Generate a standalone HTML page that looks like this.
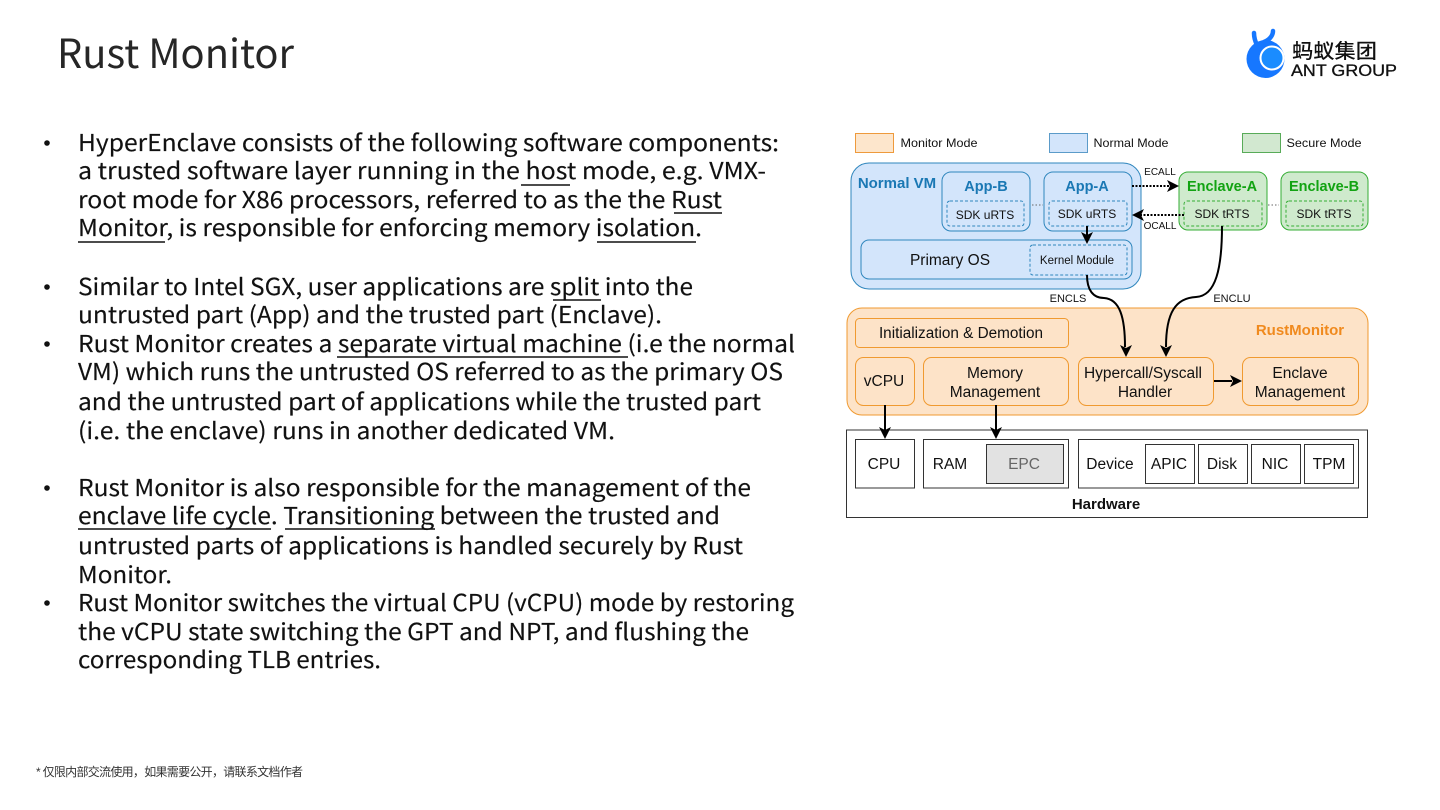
<!DOCTYPE html>
<html><head><meta charset="utf-8"><style>
html,body{margin:0;padding:0;background:#fff;width:1440px;height:810px;overflow:hidden}
svg{display:block}
.b{font-family:"Noto Sans CJK SC","Liberation Sans",sans-serif;font-size:23px;fill:#111;stroke:#111;stroke-width:.15}
.d{font-family:"Liberation Sans",sans-serif;fill:#111}
</style></head><body>
<svg width="1440" height="810" viewBox="0 0 1440 810" xmlns="http://www.w3.org/2000/svg">
<text x="57" y="68" font-family="'Noto Sans CJK SC','Liberation Sans',sans-serif" font-size="40" fill="#262626" textLength="237" lengthAdjust="spacingAndGlyphs">Rust Monitor</text>

<!-- logo -->
<path d="M1254 33C1254 37 1255 41 1257 45M1273 31C1273 36 1269 40 1264 42" stroke="#1677ff" stroke-width="4.500" fill="none" stroke-linecap="round"/>
<circle cx="1265.500" cy="59" r="19" fill="#1677ff"/>
<circle cx="1272" cy="58" r="11.500" fill="#1a8cff" stroke="#fff" stroke-width="2"/>
<text x="1292" y="58" font-family="'Noto Sans CJK SC',sans-serif" font-size="20" font-weight="500" fill="#111" textLength="85" lengthAdjust="spacingAndGlyphs">蚂蚁集团</text>
<text x="1291" y="76" font-family="'Liberation Sans',sans-serif" font-size="17" fill="#111" stroke="#111" stroke-width=".3" textLength="106" lengthAdjust="spacingAndGlyphs">ANT GROUP</text>

<!-- bullets -->
<g fill="#111">
<circle cx="47" cy="143" r="2.800"/><circle cx="47" cy="287" r="2.800"/><circle cx="47" cy="344" r="2.800"/><circle cx="47" cy="488" r="2.800"/><circle cx="47" cy="603" r="2.800"/>
</g>
<g>
<text class="b" x="78" y="151" textLength="701" lengthAdjust="spacingAndGlyphs">HyperEnclave consists of the following software components:</text>
<text class="b" x="78" y="179" textLength="688" lengthAdjust="spacingAndGlyphs">a trusted software layer running in the host mode, e.g. VMX-</text>
<text class="b" x="78" y="208" textLength="644" lengthAdjust="spacingAndGlyphs">root mode for X86 processors, referred to as the the Rust</text>
<text class="b" x="78" y="236" textLength="624" lengthAdjust="spacingAndGlyphs">Monitor, is responsible for enforcing memory isolation.</text>
<text class="b" x="78" y="295" textLength="615" lengthAdjust="spacingAndGlyphs">Similar to Intel SGX, user applications are split into the</text>
<text class="b" x="78" y="323" textLength="584" lengthAdjust="spacingAndGlyphs">untrusted part (App) and the trusted part (Enclave).</text>
<text class="b" x="78" y="352" textLength="717" lengthAdjust="spacingAndGlyphs">Rust Monitor creates a separate virtual machine (i.e the normal</text>
<text class="b" x="78" y="380" textLength="705" lengthAdjust="spacingAndGlyphs">VM) which runs the untrusted OS referred to as the primary OS</text>
<text class="b" x="78" y="410" textLength="683" lengthAdjust="spacingAndGlyphs">and the untrusted part of applications while the trusted part</text>
<text class="b" x="78" y="439" textLength="537" lengthAdjust="spacingAndGlyphs">(i.e. the enclave) runs in another dedicated VM.</text>
<text class="b" x="78" y="496" textLength="673" lengthAdjust="spacingAndGlyphs">Rust Monitor is also responsible for the management of the</text>
<text class="b" x="78" y="524" textLength="642" lengthAdjust="spacingAndGlyphs">enclave life cycle. Transitioning between the trusted and</text>
<text class="b" x="78" y="554" textLength="665" lengthAdjust="spacingAndGlyphs">untrusted parts of applications is handled securely by Rust</text>
<text class="b" x="78" y="583" textLength="94" lengthAdjust="spacingAndGlyphs">Monitor.</text>
<text class="b" x="78" y="611" textLength="716" lengthAdjust="spacingAndGlyphs">Rust Monitor switches the virtual CPU (vCPU) mode by restoring</text>
<text class="b" x="78" y="640" textLength="671" lengthAdjust="spacingAndGlyphs">the vCPU state switching the GPT and NPT, and flushing the</text>
<text class="b" x="78" y="668" textLength="303" lengthAdjust="spacingAndGlyphs">corresponding TLB entries.</text>
</g>
<g stroke="#111" stroke-width="1.600">
<path d="M521 185H570M674 213H722M78 242H165M597 242H696M553 300H601M337 357H628M78 529H271M285 529H435"/>
</g>
<text x="36" y="776" font-family="'Liberation Sans','Noto Sans CJK SC',sans-serif" font-size="12" fill="#333" textLength="267">* 仅限内部交流使用，如果需要公开，请联系文档作者</text>

<!-- diagram: legend -->
<g stroke-width="1">
<rect x="855.500" y="133.500" width="38" height="19" fill="#fde6cc" stroke="#ee9a3c"/>
<rect x="1049.500" y="133.500" width="38" height="19" fill="#d3e5fb" stroke="#5b9bc9"/>
<rect x="1242.500" y="133.500" width="38" height="19" fill="#d2e8d0" stroke="#58ab58"/>
<!-- Normal VM -->
<rect x="851" y="163" width="290" height="126" rx="18" fill="#d3e5fb" stroke="#2f86bd"/>
<rect x="942" y="172" width="88" height="59" rx="9" fill="#d3e5fb" stroke="#2f86bd"/>
<rect x="1044" y="172" width="88" height="59" rx="9" fill="#d3e5fb" stroke="#2f86bd"/>
<rect x="947" y="201" width="77" height="25" rx="3" fill="none" stroke="#2f86bd" stroke-dasharray="3 2"/>
<rect x="1049" y="201" width="78" height="25" rx="3" fill="none" stroke="#2f86bd" stroke-dasharray="3 2"/>
<rect x="861" y="240" width="271" height="39" rx="8" fill="#d3e5fb" stroke="#2f86bd"/>
<rect x="1030" y="245" width="97" height="30" rx="3" fill="none" stroke="#2f86bd" stroke-dasharray="3 2"/>
<!-- enclaves -->
<rect x="1179" y="172" width="88" height="58" rx="9" fill="#cfeacd" stroke="#35ad35"/>
<rect x="1281" y="172" width="87" height="58" rx="9" fill="#cfeacd" stroke="#35ad35"/>
<rect x="1184" y="201" width="78" height="25" rx="3" fill="none" stroke="#35ad35" stroke-dasharray="3 2"/>
<rect x="1286" y="201" width="77" height="25" rx="3" fill="none" stroke="#35ad35" stroke-dasharray="3 2"/>
<!-- RustMonitor -->
<rect x="847" y="308" width="521" height="107" rx="15" fill="#fde3c8" stroke="#f09a30"/>
<rect x="855.500" y="318.500" width="213" height="29" rx="4" fill="#fde3c8" stroke="#f09a30"/>
<rect x="855.500" y="357.500" width="59" height="48" rx="8" fill="#fde3c8" stroke="#f09a30"/>
<rect x="923.500" y="357.500" width="145" height="48" rx="8" fill="#fde3c8" stroke="#f09a30"/>
<rect x="1078.500" y="357.500" width="135" height="48" rx="8" fill="#fde3c8" stroke="#f09a30"/>
<rect x="1242.500" y="357.500" width="116" height="48" rx="8" fill="#fde3c8" stroke="#f09a30"/>
<!-- Hardware -->
<g fill="#fff" stroke="#333">
<rect x="846.500" y="430" width="521" height="87.500"/>
<rect x="855.500" y="439.500" width="59" height="48.500"/>
<rect x="923.500" y="439.500" width="145" height="48.500"/>
<rect x="986.500" y="444.500" width="77" height="39" fill="#e2e2e2"/>
<rect x="1078.500" y="439.500" width="280" height="48.500"/>
<rect x="1145.500" y="444.500" width="49" height="39"/>
<rect x="1198.500" y="444.500" width="49" height="39"/>
<rect x="1251.500" y="444.500" width="49" height="39"/>
<rect x="1304.500" y="444.500" width="49" height="39"/>
</g>
</g>
<!-- connectors -->
<g fill="none" stroke="#000" stroke-width="2">
<path d="M1132 186H1170" stroke-dasharray="2 1.500"/>
<path d="M1184 215H1140" stroke-dasharray="2 1.500"/>
<path d="M1087 226V236"/>
<path d="M1087 275C1087 290 1093 298 1104 298C1120 299 1125 318 1125 347"/>
<path d="M1222 226C1222 268 1216 296 1196 297C1176 298 1166 312 1166 347"/>
<path d="M1214 381H1232"/>
<path d="M885 405V430"/>
<path d="M996 405V430"/>
</g>
<g fill="#000">
<path d="M1179 186l-12 -6 3 6 -3 6z"/>
<path d="M1132 215l12 -6 -3 6 3 6z"/>
<path d="M1087 244l-6 -12 6 3 6 -3z"/>
<path d="M1126 357l-6 -12 6 3 6 -3z"/>
<path d="M1166 357l-6 -12 6 3 6 -3z"/>
<path d="M1242 381l-12 -6 3 6 -3 6z"/>
<path d="M885 439l-6 -12 6 3 6 -3z"/>
<path d="M996 439l-6 -12 6 3 6 -3z"/>
</g>
<g stroke="#666" stroke-width="1" stroke-dasharray="1.500 2"><path d="M1032 205H1043M1268 205H1279"/></g>

<!-- diagram text -->
<g class="d" text-anchor="middle" font-size="12">
<text x="939" y="147" textLength="77" lengthAdjust="spacingAndGlyphs">Monitor Mode</text>
<text x="1131" y="147" textLength="75" lengthAdjust="spacingAndGlyphs">Normal Mode</text>
<text x="1324" y="147" textLength="75" lengthAdjust="spacingAndGlyphs">Secure Mode</text>
<text x="1160" y="175" font-size="10">ECALL</text>
<text x="1160" y="229" font-size="10">OCALL</text>
<text x="1068" y="302" font-size="11">ENCLS</text>
<text x="1232" y="302" font-size="11">ENCLU</text>
<text x="897" y="188" font-size="15" font-weight="700" fill="#1a78b4">Normal VM</text>
<text x="986" y="191" font-size="14.500" font-weight="700" fill="#1a78b4">App-B</text>
<text x="1087" y="191" font-size="14.500" font-weight="700" fill="#1a78b4">App-A</text>
<text x="1222" y="191" font-size="14.500" font-weight="700" fill="#12a312">Enclave-A</text>
<text x="1324" y="191" font-size="14.500" font-weight="700" fill="#12a312">Enclave-B</text>
<text x="985" y="219">SDK uRTS</text>
<text x="1087" y="218">SDK uRTS</text>
<text x="1222" y="218">SDK tRTS</text>
<text x="1324" y="218">SDK tRTS</text>
<text x="950" y="265" font-size="15.500">Primary OS</text>
<text x="1077" y="264" font-size="11.500">Kernel Module</text>
<text x="961" y="338" font-size="15.300">Initialization &amp; Demotion</text>
<text x="1300" y="335" font-size="15" font-weight="700" fill="#f08a1e">RustMonitor</text>
<text x="884" y="386" font-size="15.500">vCPU</text>
<text x="995" y="378" font-size="15.500">Memory</text>
<text x="995" y="397" font-size="15.500">Management</text>
<text x="1143" y="378" font-size="15.500">Hypercall/Syscall</text>
<text x="1145" y="397" font-size="15.500">Handler</text>
<text x="1300" y="378" font-size="15.500">Enclave</text>
<text x="1300" y="397" font-size="15.500">Management</text>
<text x="884" y="469" font-size="15.500">CPU</text>
<text x="950" y="469" font-size="15.500">RAM</text>
<text x="1024" y="469" font-size="15.500" fill="#666">EPC</text>
<text x="1110" y="469" font-size="15.500">Device</text>
<text x="1169" y="469" font-size="15.500">APIC</text>
<text x="1222" y="469" font-size="15.500">Disk</text>
<text x="1275" y="469" font-size="15.500">NIC</text>
<text x="1329" y="469" font-size="15.500">TPM</text>
<text x="1106" y="509" font-size="15" font-weight="700">Hardware</text>
</g>
</svg>
</body></html>
